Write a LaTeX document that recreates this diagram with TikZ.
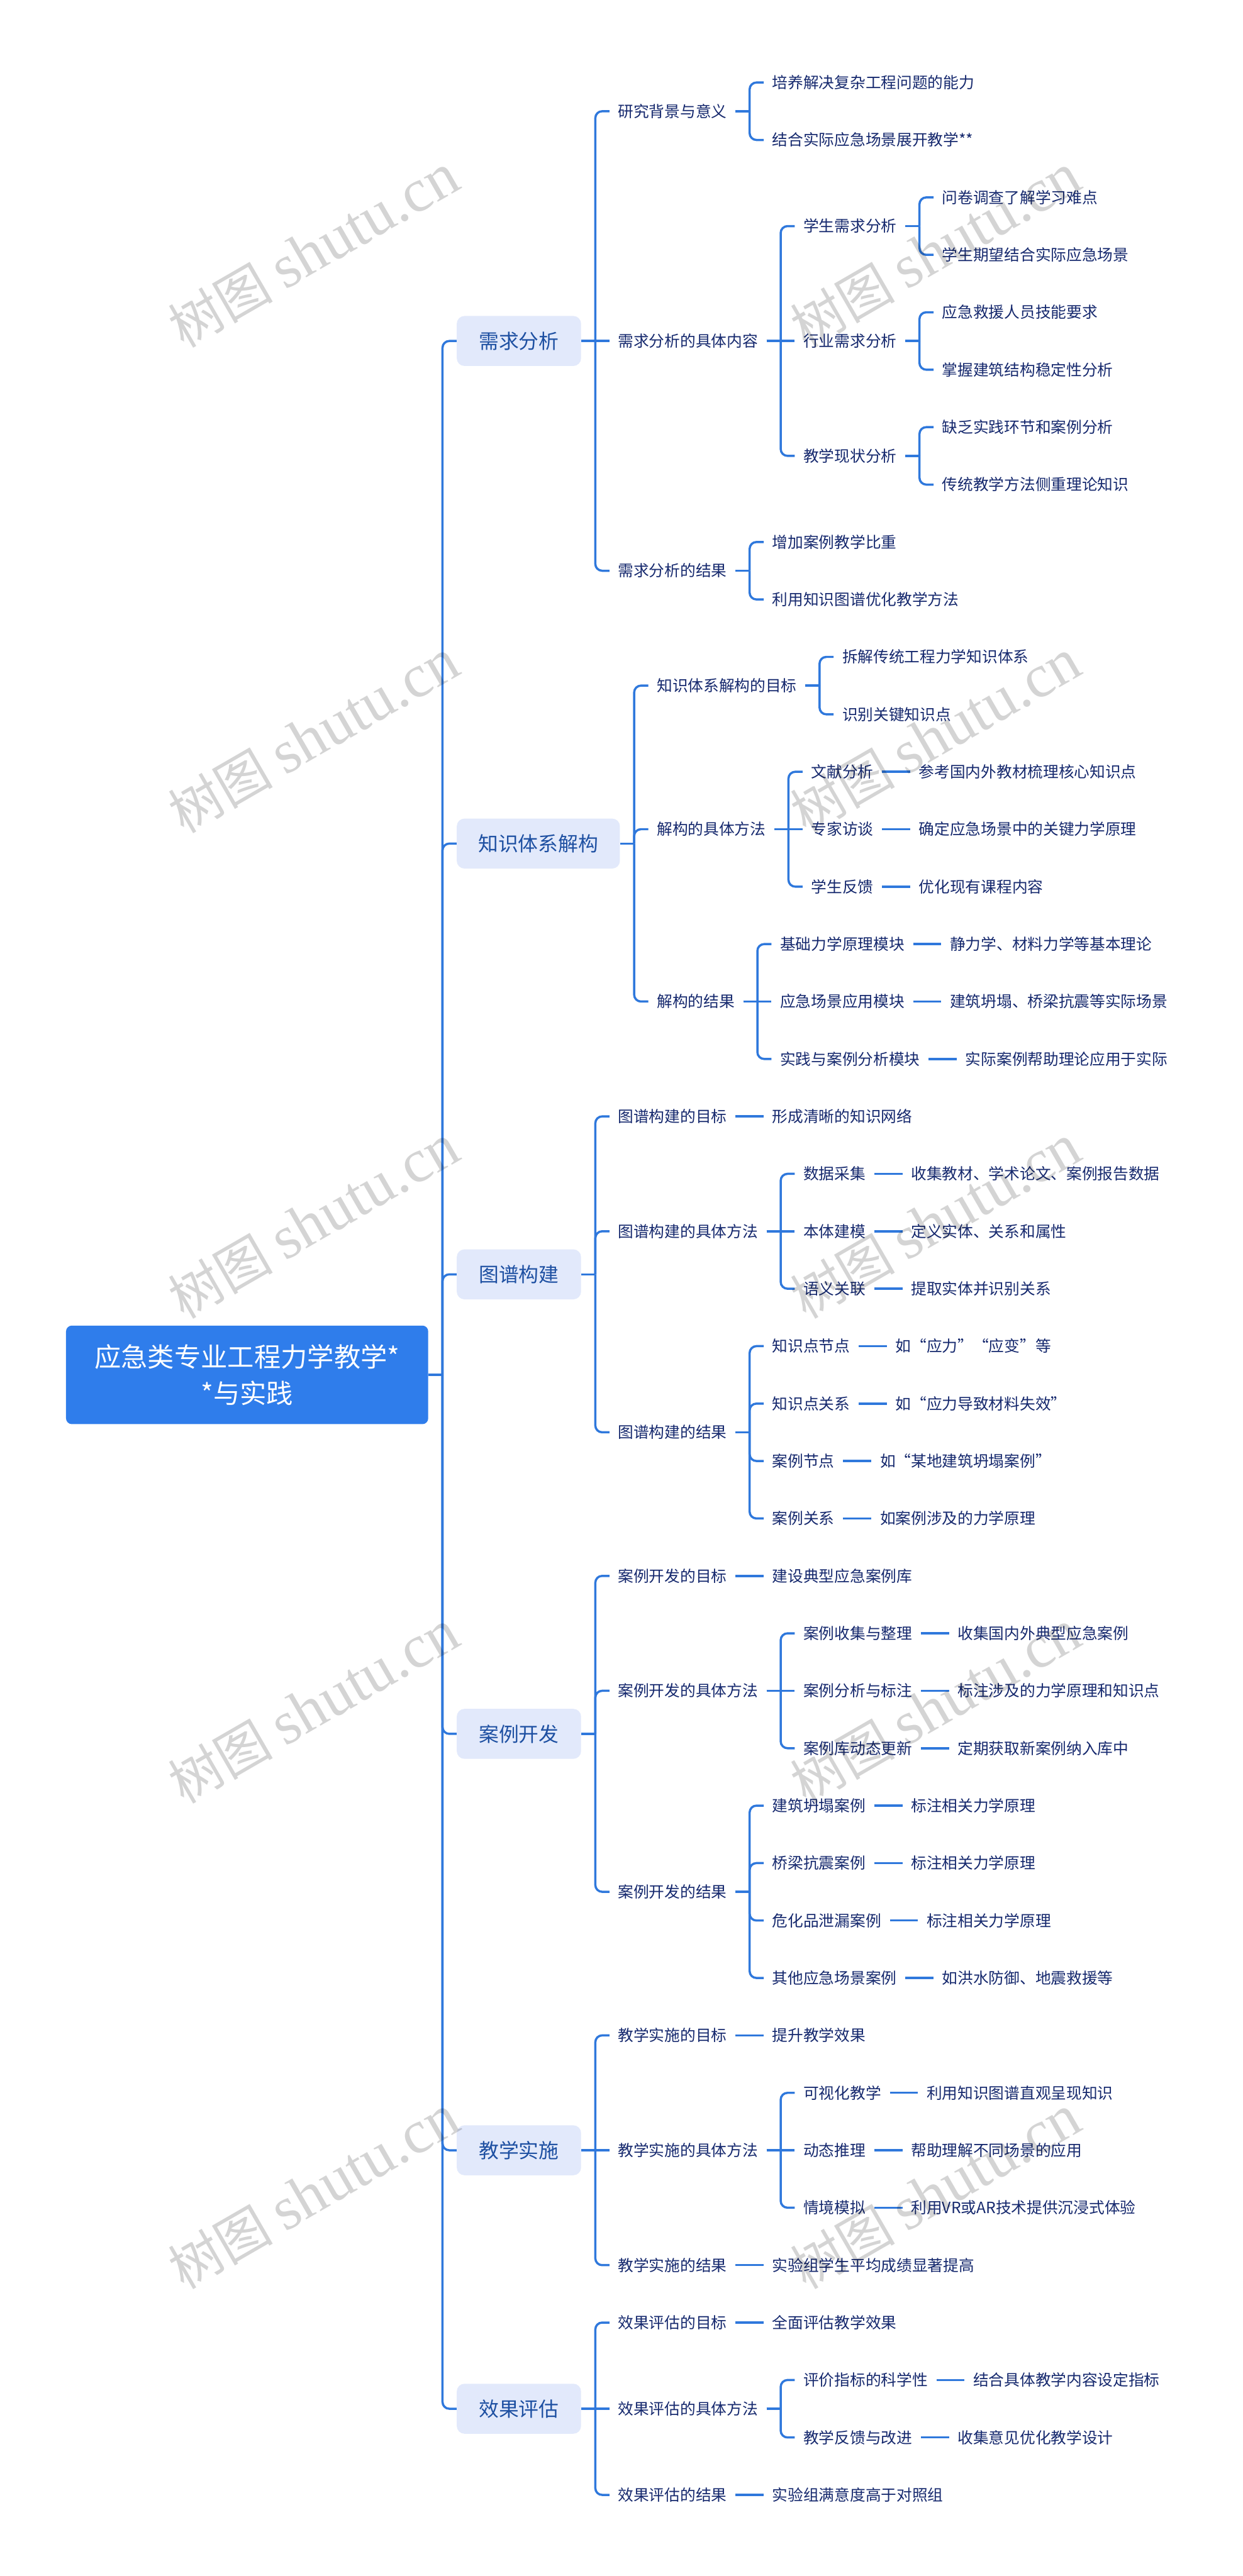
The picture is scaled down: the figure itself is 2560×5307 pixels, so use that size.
\documentclass[tikz,border=0pt]{standalone}
\usepackage{fontspec}
\setmainfont{Noto Sans CJK SC}
\newfontfamily\wmlat{Liberation Serif}
\definecolor{linec}{HTML}{2F78DC}
\definecolor{rootc}{HTML}{2F7DEB}
\definecolor{boxc}{HTML}{E2E9FB}
\definecolor{lvtext}{HTML}{1E50A2}
\definecolor{txt}{HTML}{16296E}
\tikzset{
  conn/.style={draw=linec,line width=2.25pt},
  connr/.style={conn,rounded corners=7pt},
  rootbox/.style={fill=rootc,rounded corners=6pt,text=white,align=center,minimum width=373pt,minimum height=101.5pt,inner sep=0pt,font=\fontsize{27.4pt}{37pt}\selectfont},
  lvone/.style={fill=boxc,rounded corners=8pt,text=lvtext,minimum height=51.5pt,minimum width=128pt,inner xsep=0pt,inner ysep=0pt,text height=18.2pt,text depth=2.4pt,font=\fontsize{20.6pt}{24pt}\selectfont,anchor=west},
  lvwide/.style={lvone,minimum width=168pt},
  tx/.style={text=txt,inner xsep=8.75pt,inner ysep=0pt,text height=14.1pt,text depth=1.9pt,font=\fontsize{16pt}{20pt}\selectfont,anchor=west},
  wmark/.style={rotate=30,text=black,text opacity=0.17,inner sep=0pt,font=\fontsize{54pt}{62pt}\selectfont}
}
\newdimen\ya \newdimen\yb
% #1 style, #2 name, #3 parent, #4 row, #5 text
\newcommand\bnode[5]{%
  \path (#3.east) ++(58,0) coordinate (t#2);
  \coordinate (y#2) at (0,{170+#4*118.33});
  \node[#1] (#2) at (t#2 |- y#2) {#5};
  \draw[conn] (#3.east) -- ++(29,0) coordinate (j#2);
  \pgfextracty{\ya}{\pgfpointanchor{j#2}{center}}%
  \pgfextracty{\yb}{\pgfpointanchor{#2}{west}}%
  \advance\ya by -\yb
  \ifdim\ya<0pt \ya=-\ya \fi
  \ifdim\ya<1pt
    \draw[conn] (j#2) -- (#2.west);
  \else
    \draw[connr] (j#2) |- (#2.west);
  \fi
}
\newcommand\tn[4]{\bnode{tx}{#1}{#2}{#3}{#4}}
\newcommand\wmtext{树图 {\fontsize{63pt}{62pt}\wmlat\selectfont shutu.cn}}
\begin{document}
\begin{tikzpicture}[x=0.5pt,y=-0.5pt]
\useasboundingbox (0,0) rectangle (2560,5307);
\fill[white] (0,0) rectangle (2560,5307);
\node[rootbox] (root) at (509,{170+22.5*118.33}) {应急类专业工程力学教学*\\*与实践};
% A
\bnode{lvone}{A}{root}{4.5}{需求分析}
\tn{a1}{A}{0.5}{研究背景与意义}
\tn{a11}{a1}{0}{培养解决复杂工程问题的能力}
\tn{a12}{a1}{1}{结合实际应急场景展开教学**}
\tn{a2}{A}{4.5}{需求分析的具体内容}
\tn{a21}{a2}{2.5}{学生需求分析}
\tn{a211}{a21}{2}{问卷调查了解学习难点}
\tn{a212}{a21}{3}{学生期望结合实际应急场景}
\tn{a22}{a2}{4.5}{行业需求分析}
\tn{a221}{a22}{4}{应急救援人员技能要求}
\tn{a222}{a22}{5}{掌握建筑结构稳定性分析}
\tn{a23}{a2}{6.5}{教学现状分析}
\tn{a231}{a23}{6}{缺乏实践环节和案例分析}
\tn{a232}{a23}{7}{传统教学方法侧重理论知识}
\tn{a3}{A}{8.5}{需求分析的结果}
\tn{a31}{a3}{8}{增加案例教学比重}
\tn{a32}{a3}{9}{利用知识图谱优化教学方法}
% B
\bnode{lvwide}{B}{root}{13.25}{知识体系解构}
\tn{b1}{B}{10.5}{知识体系解构的目标}
\tn{b11}{b1}{10}{拆解传统工程力学知识体系}
\tn{b12}{b1}{11}{识别关键知识点}
\tn{b2}{B}{13}{解构的具体方法}
\tn{b21}{b2}{12}{文献分析}
\tn{b211}{b21}{12}{参考国内外教材梳理核心知识点}
\tn{b22}{b2}{13}{专家访谈}
\tn{b221}{b22}{13}{确定应急场景中的关键力学原理}
\tn{b23}{b2}{14}{学生反馈}
\tn{b231}{b23}{14}{优化现有课程内容}
\tn{b3}{B}{16}{解构的结果}
\tn{b31}{b3}{15}{基础力学原理模块}
\tn{b311}{b31}{15}{静力学、材料力学等基本理论}
\tn{b32}{b3}{16}{应急场景应用模块}
\tn{b321}{b32}{16}{建筑坍塌、桥梁抗震等实际场景}
\tn{b33}{b3}{17}{实践与案例分析模块}
\tn{b331}{b33}{17}{实际案例帮助理论应用于实际}
% C
\bnode{lvone}{C}{root}{20.75}{图谱构建}
\tn{c1}{C}{18}{图谱构建的目标}
\tn{c11}{c1}{18}{形成清晰的知识网络}
\tn{c2}{C}{20}{图谱构建的具体方法}
\tn{c21}{c2}{19}{数据采集}
\tn{c211}{c21}{19}{收集教材、学术论文、案例报告数据}
\tn{c22}{c2}{20}{本体建模}
\tn{c221}{c22}{20}{定义实体、关系和属性}
\tn{c23}{c2}{21}{语义关联}
\tn{c231}{c23}{21}{提取实体并识别关系}
\tn{c3}{C}{23.5}{图谱构建的结果}
\tn{c31}{c3}{22}{知识点节点}
\tn{c311}{c31}{22}{如“应力”“应变”等}
\tn{c32}{c3}{23}{知识点关系}
\tn{c321}{c32}{23}{如“应力导致材料失效”}
\tn{c33}{c3}{24}{案例节点}
\tn{c331}{c33}{24}{如“某地建筑坍塌案例”}
\tn{c34}{c3}{25}{案例关系}
\tn{c341}{c34}{25}{如案例涉及的力学原理}
% D
\bnode{lvone}{D}{root}{28.75}{案例开发}
\tn{d1}{D}{26}{案例开发的目标}
\tn{d11}{d1}{26}{建设典型应急案例库}
\tn{d2}{D}{28}{案例开发的具体方法}
\tn{d21}{d2}{27}{案例收集与整理}
\tn{d211}{d21}{27}{收集国内外典型应急案例}
\tn{d22}{d2}{28}{案例分析与标注}
\tn{d221}{d22}{28}{标注涉及的力学原理和知识点}
\tn{d23}{d2}{29}{案例库动态更新}
\tn{d231}{d23}{29}{定期获取新案例纳入库中}
\tn{d3}{D}{31.5}{案例开发的结果}
\tn{d31}{d3}{30}{建筑坍塌案例}
\tn{d311}{d31}{30}{标注相关力学原理}
\tn{d32}{d3}{31}{桥梁抗震案例}
\tn{d321}{d32}{31}{标注相关力学原理}
\tn{d33}{d3}{32}{危化品泄漏案例}
\tn{d331}{d33}{32}{标注相关力学原理}
\tn{d34}{d3}{33}{其他应急场景案例}
\tn{d341}{d34}{33}{如洪水防御、地震救援等}
% E
\bnode{lvone}{E}{root}{36}{教学实施}
\tn{e1}{E}{34}{教学实施的目标}
\tn{e11}{e1}{34}{提升教学效果}
\tn{e2}{E}{36}{教学实施的具体方法}
\tn{e21}{e2}{35}{可视化教学}
\tn{e211}{e21}{35}{利用知识图谱直观呈现知识}
\tn{e22}{e2}{36}{动态推理}
\tn{e221}{e22}{36}{帮助理解不同场景的应用}
\tn{e23}{e2}{37}{情境模拟}
\tn{e231}{e23}{37}{利用VR或AR技术提供沉浸式体验}
\tn{e3}{E}{38}{教学实施的结果}
\tn{e31}{e3}{38}{实验组学生平均成绩显著提高}
% F
\bnode{lvone}{F}{root}{40.5}{效果评估}
\tn{f1}{F}{39}{效果评估的目标}
\tn{f11}{f1}{39}{全面评估教学效果}
\tn{f2}{F}{40.5}{效果评估的具体方法}
\tn{f21}{f2}{40}{评价指标的科学性}
\tn{f211}{f21}{40}{结合具体教学内容设定指标}
\tn{f22}{f2}{41}{教学反馈与改进}
\tn{f221}{f22}{41}{收集意见优化教学设计}
\tn{f3}{F}{42}{效果评估的结果}
\tn{f31}{f3}{42}{实验组满意度高于对照组}
% watermarks
\foreach \r in {0,1,2,3,4}{
  \node[wmark] (wl\r) at (646,{517+\r*1000}) {\wmtext};
  \node[wmark] (wr\r) at (1927,{517+\r*1000}) {\wmtext};
}
\end{tikzpicture}
\end{document}
